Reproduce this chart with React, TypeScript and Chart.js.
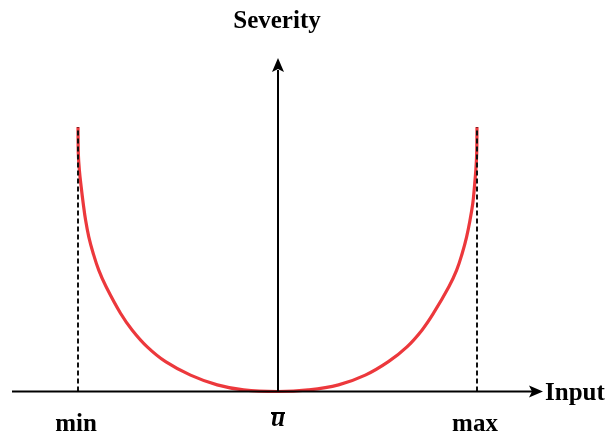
import React, { useEffect, useRef } from "react";
import { Chart, registerables } from "chart.js";

Chart.register(...registerables);

// Normalised input: -1 = min, 0 = ū, 1 = max; severity normalised to 1 at the bounds
const severityInputs = [
  -1, -0.9985, -0.993, -0.984, -0.974, -0.962, -0.946, -0.924, -0.896, -0.859,
  -0.787, -0.728, -0.653, -0.561, -0.436, -0.302, -0.17, 0,
  0.155, 0.306, 0.44, 0.556, 0.649, 0.724, 0.782, 0.859, 0.898, 0.926, 0.948,
  0.965, 0.979, 0.987, 0.994, 0.9985, 1,
];
const severityValues = [
  1, 0.901, 0.836, 0.773, 0.712, 0.648, 0.585, 0.523, 0.459, 0.396,
  0.296, 0.232, 0.169, 0.113, 0.062, 0.025, 0.006, 0,
  0.006, 0.025, 0.062, 0.113, 0.169, 0.232, 0.296, 0.396, 0.459, 0.523, 0.585,
  0.648, 0.712, 0.773, 0.836, 0.901, 1,
];

const boundInputs = [-1, 1];
const boundLabels = ["min", "max"];
const centreLabel = "u";
const xAxisTitle = "Input";
const yAxisTitle = "Severity";

const LABEL_FONT = "bold 25px 'Liberation Serif', 'Times New Roman', serif";

function arrowHead(ctx: CanvasRenderingContext2D, tx: number, ty: number, dir: "right" | "up") {
  const len = 14;
  const half = 6;
  const notch = 3;
  ctx.beginPath();
  if (dir === "right") {
    ctx.moveTo(tx, ty);
    ctx.lineTo(tx - len, ty - half);
    ctx.lineTo(tx - len + notch, ty);
    ctx.lineTo(tx - len, ty + half);
  } else {
    ctx.moveTo(tx, ty);
    ctx.lineTo(tx - half, ty + len);
    ctx.lineTo(tx, ty + len - notch);
    ctx.lineTo(tx + half, ty + len);
  }
  ctx.closePath();
  ctx.fill();
}

const axesPlugin = {
  id: "arrowAxes",
  afterDatasetsDraw(chart: any) {
    const { ctx, scales } = chart;
    const xs = scales.x;
    const ys = scales.y;
    const x0 = Math.round(xs.getPixelForValue(0));
    const y0 = ys.getPixelForValue(0);
    ctx.save();
    ctx.strokeStyle = "#000";
    ctx.fillStyle = "#000";
    ctx.lineWidth = 2;

    // horizontal axis
    ctx.beginPath();
    ctx.moveTo(12, y0);
    ctx.lineTo(533, y0);
    ctx.stroke();
    arrowHead(ctx, 543, y0, "right");

    // vertical axis
    ctx.beginPath();
    ctx.moveTo(x0, y0);
    ctx.lineTo(x0, 70);
    ctx.stroke();
    arrowHead(ctx, x0, 58, "up");

    ctx.font = LABEL_FONT;
    ctx.textBaseline = "alphabetic";

    ctx.textAlign = "center";
    ctx.fillText(yAxisTitle, x0 - 1, 28);

    ctx.textAlign = "left";
    ctx.fillText(xAxisTitle, 545, 400);

    ctx.textAlign = "center";
    boundInputs.forEach((v, i) => {
      ctx.fillText(boundLabels[i], xs.getPixelForValue(v) - 2, 431);
    });

    ctx.font = "bold italic 25px 'Liberation Serif', 'Times New Roman', serif";
    ctx.fillText(centreLabel, x0, 426);
    ctx.beginPath();
    ctx.moveTo(x0 - 7, 413);
    ctx.lineTo(x0 + 7, 413);
    ctx.stroke();
    ctx.restore();
  },
};

export default function App() {
  const canvasRef = useRef<HTMLCanvasElement | null>(null);

  useEffect(() => {
    if (!canvasRef.current) return;
    const curve = severityInputs.map((x, i) => ({ x, y: severityValues[i] }));
    const boundSets = boundInputs.map((x) => ({
      data: [
        { x, y: 0 },
        { x, y: 1 },
      ],
      showLine: true,
      borderColor: "#111",
      borderWidth: 2,
      borderDash: [5, 3],
      pointRadius: 0,
      fill: false,
      clip: false as any,
    }));
    const chart = new Chart(canvasRef.current, {
      type: "scatter",
      data: {
        datasets: [
          ...boundSets,
          {
            data: curve,
            showLine: true,
            borderColor: "rgb(236, 56, 60)",
            borderWidth: 3.2,
            pointRadius: 0,
            tension: 0.4,
            fill: false,
            clip: false as any,
          },
        ],
      },
      options: {
        responsive: false,
        animation: false,
        devicePixelRatio: 1,
        layout: { padding: { left: 78, right: 133, top: 127, bottom: 47.5 } },
        plugins: {
          legend: { display: false },
          tooltip: { enabled: false },
        },
        scales: {
          x: { type: "linear", min: -1, max: 1, display: false },
          y: { type: "linear", min: 0, max: 1, display: false },
        },
      },
      plugins: [axesPlugin],
    });
    return () => chart.destroy();
  }, []);

  return (
    <div style={{ position: "absolute", left: 0, top: 0, width: 610, height: 439, background: "#fff" }}>
      <canvas ref={canvasRef} width={610} height={439} />
    </div>
  );
}
